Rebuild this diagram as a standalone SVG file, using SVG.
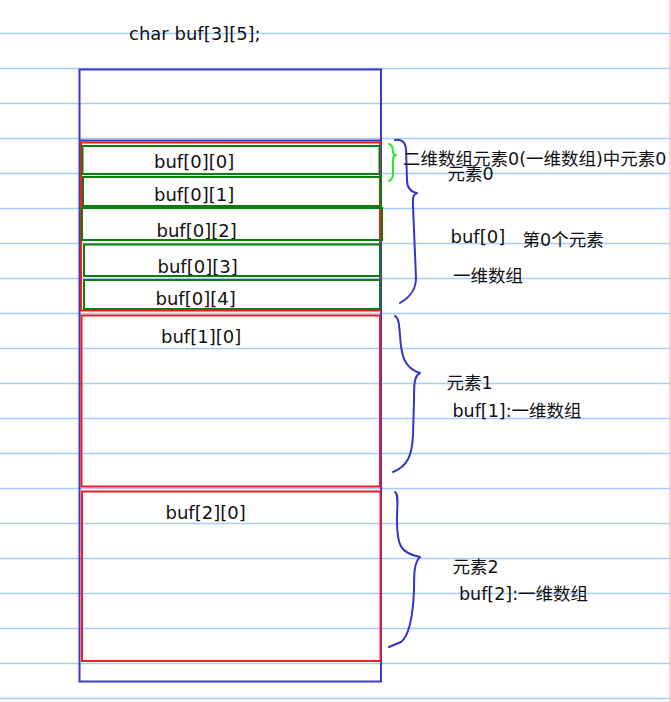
<svg xmlns="http://www.w3.org/2000/svg" width="671" height="702" viewBox="0 0 671 702">
<style>
.grid line{stroke:#a6cdfb;stroke-width:1.5}
.t{font-family:"DejaVu Sans","Noto Sans CJK SC",sans-serif;font-size:18px;fill:#111}
.c{font-size:17.5px}
.blue{fill:none;stroke:#3a3acc;stroke-width:2}
.red{fill:none;stroke:#ee1c1c;stroke-width:2}
.green{fill:none;stroke:#0a7d0a;stroke-width:2}
.br{fill:none;stroke:#3535c8;stroke-width:2;stroke-linecap:round;stroke-linejoin:round}
.brg{fill:none;stroke:#2ee62e;stroke-width:2;stroke-linecap:round;stroke-linejoin:round}
</style>
<rect width="671" height="702" fill="#ffffff"/>
<g class="grid">
<line x1="0" y1="33.5" x2="671" y2="33.5"/>
<line x1="0" y1="68.5" x2="671" y2="68.5"/>
<line x1="0" y1="103.5" x2="671" y2="103.5"/>
<line x1="0" y1="138.5" x2="671" y2="138.5"/>
<line x1="0" y1="173.5" x2="671" y2="173.5"/>
<line x1="0" y1="208.5" x2="671" y2="208.5"/>
<line x1="0" y1="243.5" x2="671" y2="243.5"/>
<line x1="0" y1="278.5" x2="671" y2="278.5"/>
<line x1="0" y1="313.5" x2="671" y2="313.5"/>
<line x1="0" y1="348.5" x2="671" y2="348.5"/>
<line x1="0" y1="383.5" x2="671" y2="383.5"/>
<line x1="0" y1="418.5" x2="671" y2="418.5"/>
<line x1="0" y1="453.5" x2="671" y2="453.5"/>
<line x1="0" y1="488.5" x2="671" y2="488.5"/>
<line x1="0" y1="523.5" x2="671" y2="523.5"/>
<line x1="0" y1="558.5" x2="671" y2="558.5"/>
<line x1="0" y1="593.5" x2="671" y2="593.5"/>
<line x1="0" y1="628.5" x2="671" y2="628.5"/>
<line x1="0" y1="663.5" x2="671" y2="663.5"/>
<line x1="0" y1="698.5" x2="671" y2="698.5"/>
</g>
<line x1="670" y1="0" x2="670" y2="702" stroke="#ffc4c8" stroke-width="1.5"/>
<text class="t" x="129" y="40">char buf[3][5];</text>
<g id="buf">
<rect class="blue" x="79.5" y="69.5" width="301.5" height="612"/>
<line class="blue" x1="79.5" y1="140.5" x2="381" y2="140.5"/>
</g>
<g id="buf0">
<rect class="red" x="81" y="142.5" width="299" height="168"/>
</g>
<g id="buf00"><rect class="green" x="82.5" y="146" width="297" height="28"/><text class="t" x="154" y="168">buf[0][0]</text></g>
<g id="buf01"><rect class="green" x="83" y="177" width="298" height="29"/><text class="t" x="154" y="201">buf[0][1]</text></g>
<g id="buf02"><rect class="green" x="82" y="208" width="300" height="32"/><text class="t" x="156.5" y="236.5">buf[0][2]</text></g>
<g id="buf03"><rect class="green" x="84" y="244.5" width="296" height="31.5"/><text class="t" x="157.5" y="272.5">buf[0][3]</text></g>
<g id="buf04"><rect class="green" x="84" y="280" width="296" height="29"/><text class="t" x="155.5" y="305">buf[0][4]</text></g>
<g id="buf1"><rect class="red" x="81.5" y="315.5" width="298.5" height="171"/><text class="t" x="161" y="342.5">buf[1][0]</text></g>
<g id="buf2"><rect class="red" x="82" y="491.5" width="298.5" height="169.5"/><text class="t" x="165.5" y="519">buf[2][0]</text></g>
<g id="connectors">
<path class="brg" d="M389,144 C393,145 393,150 393,152 Q393,155 396,155 Q393,156 393,160 L393,174 Q393,179 389,181"/>
<path class="br" d="M395,140 C401,139 405,141 406,149 L407,180 C407,188 411,192 417,193 C412,195 413,199 413,206 L416,278 C416,290 410,297 400,303"/>
<path class="br" d="M395,316 C399,318 399,325 400,335 C401,355 404,368 420,373 C414,376 414,385 414,400 L413,435 C412,455 408,466 393,472"/>
<path class="br" d="M395,492 C399,495 397,505 397,520 C397,545 400,553 420,557 C414,562 414,575 414,590 C413,615 410,635 401,642 L389,647"/>
</g>
<g id="labels">
<text class="t c" x="403" y="165">二维数组元素0(一维数组)中元素0</text>
<text class="t c" x="447.5" y="179.5">元素0</text>
<text class="t" x="450.5" y="242.5">buf[0]</text>
<text class="t c" x="522.5" y="245.5">第0个元素</text>
<text class="t c" x="453" y="281.5">一维数组</text>
<text class="t c" x="446.5" y="389">元素1</text>
<text class="t c" x="452.5" y="416.5">buf[1]:一维数组</text>
<text class="t c" x="452.5" y="573">元素2</text>
<text class="t c" x="459" y="600">buf[2]:一维数组</text>
</g>
</svg>
